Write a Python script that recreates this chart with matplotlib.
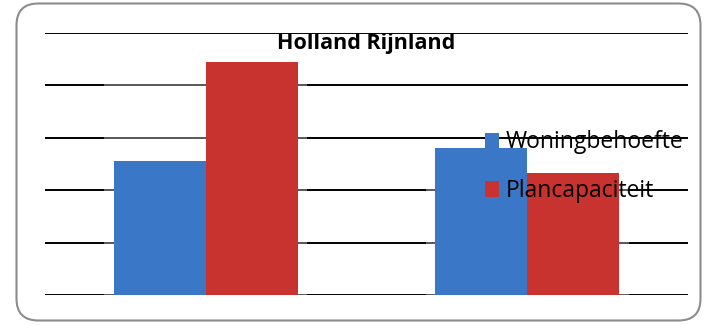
import numpy as np
import matplotlib
matplotlib.use("Agg")
import matplotlib.pyplot as plt
from matplotlib.patches import FancyBboxPatch, Rectangle

# two regions in the chart, values in grid units
categories = ["Regio A", "Regio B"]
series_names = ["Woningbehoefte", "Plancapaciteit"]
woningbehoefte = [2.56, 2.80]
plancapaciteit = [4.45, 2.33]
colors = ["#3a77c7", "#c9332f"]

plt.rcParams["font.family"] = ["Open Sans", "DejaVu Sans"]

fig = plt.figure(figsize=(7.05, 3.25), dpi=100)
ax = fig.add_axes([45 / 705, 30 / 325, 643 / 705, 262 / 325])

# rounded frame around the whole chart
frame = FancyBboxPatch((16.5 / 705, 4.5 / 325), 684 / 705, 317 / 325,
                       boxstyle="round,pad=0,rounding_size=0.031",
                       transform=fig.transFigure, facecolor="none",
                       edgecolor="#8c8c8c", linewidth=1.5,
                       mutation_aspect=705 / 325)
fig.patches.append(frame)

x = np.arange(len(categories))
width = 0.286
ax.bar(x - width / 2, woningbehoefte, width, color=colors[0],
       label=series_names[0], zorder=3)
ax.bar(x + width / 2, plancapaciteit, width, color=colors[1],
       label=series_names[1], zorder=3)

# soft white halo around each bar group, dims the grid just next to it
for i in range(len(categories)):
    top = max(woningbehoefte[i], plancapaciteit[i])
    ax.add_patch(Rectangle((i - width - 0.03, -0.1), 2 * width + 0.06,
                           top + 0.15, facecolor="white", alpha=0.35,
                           edgecolor="none", zorder=2))

ax.set_xlim(-0.5, 1.5)
ax.set_ylim(0, 5)
ax.set_yticks(np.arange(0, 6))
ax.yaxis.grid(True, color="black", linewidth=1.4, zorder=1)
ax.tick_params(left=False, bottom=False, labelleft=False, labelbottom=False)
for side in ax.spines.values():
    side.set_visible(False)

ax.set_title("Holland Rijnland", fontsize=15.5, fontweight="bold",
             y=0.94, pad=0)

leg = ax.legend(loc="upper left", bbox_to_anchor=(0.684, 0.628),
                frameon=False, fontsize=16.5, handlelength=0.64,
                handleheight=0.64, handletextpad=0.28, labelspacing=1.07,
                borderpad=0, borderaxespad=0)
leg.set_zorder(5)

fig.savefig("out.png", dpi=100)
